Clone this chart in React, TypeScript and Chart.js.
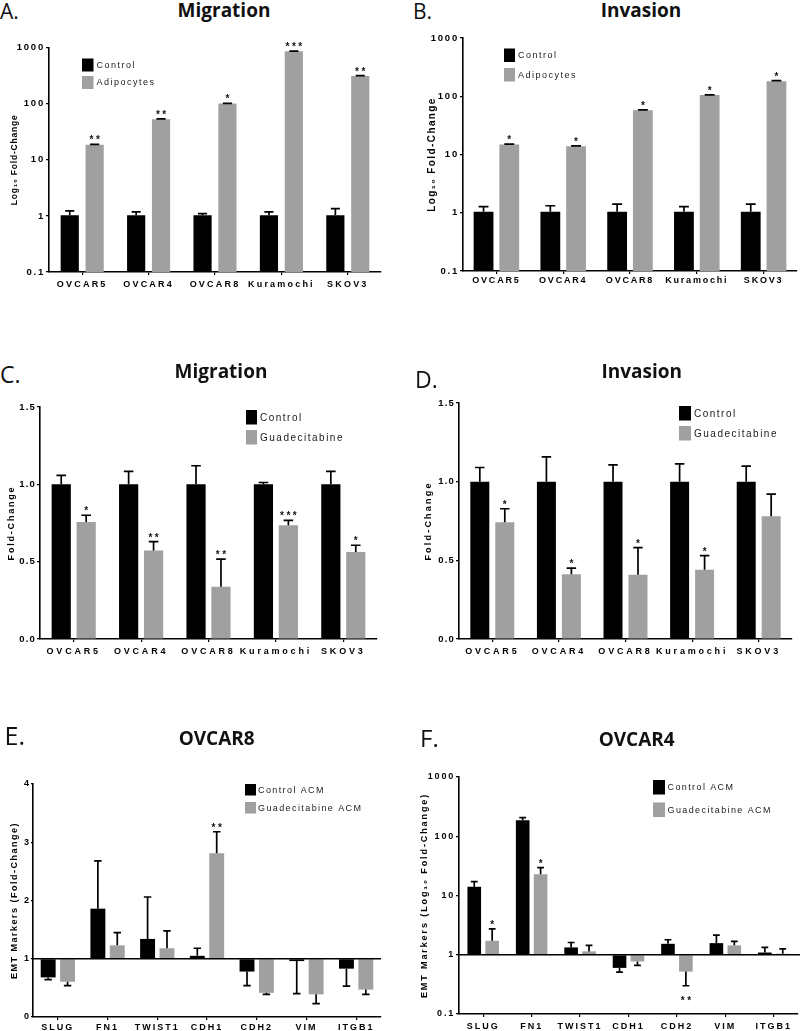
import { useEffect, useRef } from 'react';
import { Chart, registerables } from 'chart.js';

Chart.register(...registerables);

// ---------- data ----------
const cellLines = ['OVCAR5', 'OVCAR4', 'OVCAR8', 'Kuramochi', 'SKOV3'];
const emtMarkers = ['SLUG', 'FN1', 'TWIST1', 'CDH1', 'CDH2', 'VIM', 'ITGB1'];
const logTicks = [0.1, 1, 10, 100, 1000];
const foldTicks = [0, 0.5, 1, 1.5];
const emtTicks = [0, 1, 2, 3, 4];

// A. Migration (adipocytes)
const migControl = [1.03, 1.03, 1.03, 1.03, 1.03];
const migControlErr = [1.23, 1.18, 1.1, 1.18, 1.35];
const migAdipo = [18.5, 53, 101, 860, 312];
const migAdipoErr = [18.9, 54, 102, 870, 318];
const migAdipoStars = ['**', '**', '*', '***', '**'];

// B. Invasion (adipocytes)
const invControl = [1.04, 1.04, 1.04, 1.04, 1.04];
const invControlErr = [1.27, 1.32, 1.41, 1.27, 1.41];
const invAdipo = [14.8, 13.9, 57.5, 105, 181];
const invAdipoErr = [15.1, 14.1, 58.5, 106, 185];
const invAdipoStars = ['*', '*', '*', '*', '*'];

// C. Migration (guadecitabine)
const migGControl = [1.0, 1.0, 1.0, 1.0, 1.0];
const migGControlErr = [1.058, 1.084, 1.12, 1.012, 1.084];
const migGuad = [0.756, 0.573, 0.338, 0.735, 0.563];
const migGuadErr = [0.8, 0.63, 0.517, 0.767, 0.606];
const migGuadStars = ['*', '**', '**', '***', '*'];

// D. Invasion (guadecitabine)
const invGControl = [1.0, 1.0, 1.0, 1.0, 1.0];
const invGControlErr = [1.09, 1.158, 1.107, 1.113, 1.099];
const invGuad = [0.742, 0.412, 0.408, 0.44, 0.78];
const invGuadErr = [0.828, 0.45, 0.581, 0.53, 0.921];
const invGuadStars = ['*', '*', '*', '*', ''];

// E. OVCAR8 EMT markers
const ov8Control = [0.68, 1.86, 1.34, 1.05, 0.78, 0.96, 0.83];
const ov8ControlErr = [0.64, 2.68, 2.06, 1.18, 0.54, 0.4, 0.53];
const ov8Guad = [0.605, 1.23, 1.18, 2.81, 0.415, 0.39, 0.47];
const ov8GuadErr = [0.537, 1.45, 1.48, 3.18, 0.39, 0.23, 0.39];
const ov8GuadStars = ['', '', '', '**', '', '', ''];

// F. OVCAR4 EMT markers
const ov4Control = [14.1, 187, 1.33, 0.6, 1.53, 1.57, 1.09];
const ov4ControlErr = [17.1, 207, 1.61, 0.51, 1.79, 2.14, 1.33];
const ov4Guad = [1.72, 22.8, 1.14, 0.77, 0.52, 1.44, 1.04];
const ov4GuadErr = [2.74, 29.5, 1.44, 0.66, 0.3, 1.68, 1.26];
const ov4GuadStars = ['*', '*', '', '', '**', '', ''];

// ---------- styling ----------
const SANS = "'Liberation Sans', Arial, sans-serif";
const HEAD = "'Open Sans', sans-serif";
const BLACK = '#000000';
const GREY = '#a0a0a0';

const logFmt = (v: number) => String(v);
const foldFmt = (v: number) => v.toFixed(1);
const intFmt = (v: number) => String(v);

function patchSpacing(scale: any, labelSp: number, titleSp: number) {
  if (scale.__spaced) return;
  scale.__spaced = true;
  const dl = scale.drawLabels.bind(scale);
  scale.drawLabels = (ca: any) => {
    const c = scale.ctx;
    c.save();
    c.letterSpacing = labelSp + 'px';
    dl(ca);
    c.restore();
  };
  const dt = scale.drawTitle.bind(scale);
  scale.drawTitle = () => {
    const c = scale.ctx;
    c.save();
    c.letterSpacing = titleSp + 'px';
    dt();
    c.restore();
  };
}

const extrasPlugin = {
  id: 'panelExtras',
  afterDatasetsDraw(chart: any, _args: any, opts: any) {
    const { ctx, chartArea } = chart;
    const ys = chart.scales.y;
    ctx.save();
    if (opts.refLine != null) {
      const py = ys.getPixelForValue(opts.refLine);
      ctx.strokeStyle = '#000';
      ctx.lineWidth = 1.6;
      ctx.beginPath();
      ctx.moveTo(chartArea.left, py);
      ctx.lineTo(opts.refLineToEdge ? chart.width : chartArea.right, py);
      ctx.stroke();
    }
    chart.data.datasets.forEach((ds: any, di: number) => {
      const meta = chart.getDatasetMeta(di);
      meta.data.forEach((bar: any, i: number) => {
        const v = ds.data[i];
        const e = ds.errors ? ds.errors[i] : null;
        const x = bar.x;
        const pv = ys.getPixelForValue(v);
        let pe = pv;
        if (e != null) {
          pe = ys.getPixelForValue(e);
          const half = bar.width / 4;
          ctx.strokeStyle = '#000';
          ctx.lineWidth = 1.7;
          ctx.beginPath();
          ctx.moveTo(x, pv);
          ctx.lineTo(x, pe);
          ctx.moveTo(x - half, pe);
          ctx.lineTo(x + half, pe);
          ctx.stroke();
        }
        const star = ds.stars ? ds.stars[i] : '';
        if (star) {
          const below = pe > pv + 0.5;
          ctx.font = `bold ${opts.starSize}px ${SANS}`;
          ctx.letterSpacing = opts.starSp + 'px';
          ctx.textAlign = 'center';
          ctx.textBaseline = 'alphabetic';
          ctx.fillStyle = '#111';
          const ty = below ? pe + opts.starBelow : pe - opts.starAbove;
          ctx.fillText(star, x + opts.starSp / 2, ty);
          ctx.letterSpacing = '0px';
        }
      });
    });
    const lg = opts.legend;
    if (lg) {
      ctx.font = `${lg.size}px ${SANS}`;
      ctx.letterSpacing = lg.sp + 'px';
      ctx.textAlign = 'left';
      ctx.textBaseline = 'middle';
      chart.data.datasets.forEach((ds: any, i: number) => {
        const top = lg.y + i * lg.row;
        ctx.fillStyle = ds.backgroundColor;
        ctx.fillRect(lg.x, top, lg.w, lg.h);
        ctx.fillStyle = '#1a1a1a';
        ctx.fillText(ds.label, lg.tx, top + lg.h / 2 + 0.5);
      });
    }
    ctx.restore();
  },
};

type Series = { label: string; color: string; values: number[]; errors: number[]; stars: string[] };

interface PanelSpec {
  key: string;
  box: { x: number; y: number; w: number; h: number };
  area: { l: number; t: number; r: number; b: number };
  labels: string[];
  yType: string;
  yMin: number;
  yMax: number;
  yTicks: number[];
  fmt: (v: number) => string;
  yTitle: string;
  yTitleSize: number;
  yTitleSp: number;
  yTitleX: number;
  yTickSize: number;
  yTickSp: number;
  yTickLen: number;
  yTickPad: number;
  xTickSize: number;
  xTickSp: number;
  xTickPad: number;
  base?: number;
  refLine?: number;
  refLineToEdge?: boolean;
  cp: number;
  bp: number;
  series: Series[];
  legend: { x: number; y: number; w: number; h: number; row: number; tx: number; size: number; sp: number };
}

const panels: PanelSpec[] = [
  {
    key: 'A',
    box: { x: 0, y: 30, w: 400, h: 280 },
    area: { l: 49, t: 47.7, r: 381, b: 272 },
    labels: cellLines,
    yType: 'logarithmic', yMin: 0.1, yMax: 1000, yTicks: logTicks, fmt: logFmt,
    yTitle: 'Log₁₀ Fold-Change', yTitleSize: 8.5, yTitleSp: 0.8, yTitleX: 15,
    yTickSize: 9.5, yTickSp: 1.8, yTickLen: 3, yTickPad: 1,
    xTickSize: 9, xTickSp: 2.2, xTickPad: 4.6,
    cp: 0.75, bp: 0.73,
    series: [
      { label: 'Control', color: BLACK, values: migControl, errors: migControlErr, stars: [] },
      { label: 'Adipocytes', color: GREY, values: migAdipo, errors: migAdipoErr, stars: migAdipoStars },
    ],
    legend: { x: 82, y: 58.5, w: 11.5, h: 13, row: 17.5, tx: 96.5, size: 9, sp: 1.5 },
  },
  {
    key: 'B',
    box: { x: 400, y: 30, w: 400, h: 280 },
    area: { l: 463, t: 38, r: 797, b: 271 },
    labels: cellLines,
    yType: 'logarithmic', yMin: 0.1, yMax: 1000, yTicks: logTicks, fmt: logFmt,
    yTitle: 'Log₁₀ Fold-Change', yTitleSize: 10, yTitleSp: 1.4, yTitleX: 432.5,
    yTickSize: 9.5, yTickSp: 1.8, yTickLen: 3, yTickPad: 1,
    xTickSize: 9, xTickSp: 1.8, xTickPad: 1.5,
    cp: 0.77, bp: 0.77,
    series: [
      { label: 'Control', color: BLACK, values: invControl, errors: invControlErr, stars: [] },
      { label: 'Adipocytes', color: GREY, values: invAdipo, errors: invAdipoErr, stars: invAdipoStars },
    ],
    legend: { x: 504, y: 48.5, w: 11, h: 13.5, row: 19.5, tx: 518, size: 9, sp: 1.5 },
  },
  {
    key: 'C',
    box: { x: 0, y: 390, w: 400, h: 290 },
    area: { l: 40, t: 407, r: 377, b: 639 },
    labels: cellLines,
    yType: 'linear', yMin: 0, yMax: 1.5, yTicks: foldTicks, fmt: foldFmt,
    yTitle: 'Fold-Change', yTitleSize: 9, yTitleSp: 1.8, yTitleX: 11.5,
    yTickSize: 9.5, yTickSp: 1.2, yTickLen: 3, yTickPad: 1,
    xTickSize: 9, xTickSp: 2.8, xTickPad: 4.6,
    cp: 0.74, bp: 0.77,
    series: [
      { label: 'Control', color: BLACK, values: migGControl, errors: migGControlErr, stars: [] },
      { label: 'Guadecitabine', color: GREY, values: migGuad, errors: migGuadErr, stars: migGuadStars },
    ],
    legend: { x: 246, y: 410, w: 11, h: 14.5, row: 20, tx: 260, size: 10, sp: 1.5 },
  },
  {
    key: 'D',
    box: { x: 400, y: 390, w: 400, h: 290 },
    area: { l: 459, t: 403, r: 792, b: 639 },
    labels: cellLines,
    yType: 'linear', yMin: 0, yMax: 1.5, yTicks: foldTicks, fmt: foldFmt,
    yTitle: 'Fold-Change', yTitleSize: 9, yTitleSp: 2.2, yTitleX: 428.5,
    yTickSize: 9.5, yTickSp: 1.2, yTickLen: 3, yTickPad: 1,
    xTickSize: 9, xTickSp: 2.8, xTickPad: 4.6,
    cp: 0.75, bp: 0.76,
    series: [
      { label: 'Control', color: BLACK, values: invGControl, errors: invGControlErr, stars: [] },
      { label: 'Guadecitabine', color: GREY, values: invGuad, errors: invGuadErr, stars: invGuadStars },
    ],
    legend: { x: 679, y: 406, w: 12, h: 14.5, row: 20, tx: 694, size: 10, sp: 1.5 },
  },
  {
    key: 'E',
    box: { x: 0, y: 750, w: 400, h: 281 },
    area: { l: 33, t: 784, r: 381, b: 1017 },
    labels: emtMarkers,
    yType: 'linear', yMin: 0, yMax: 4, yTicks: emtTicks, fmt: intFmt,
    yTitle: 'EMT Markers (Fold-Change)', yTitleSize: 9, yTitleSp: 1.5, yTitleX: 15,
    yTickSize: 9, yTickSp: 1, yTickLen: 2, yTickPad: 1,
    xTickSize: 9, xTickSp: 2, xTickPad: 2,
    base: 1, refLine: 1, refLineToEdge: false,
    cp: 0.78, bp: 0.77,
    series: [
      { label: 'Control ACM', color: BLACK, values: ov8Control, errors: ov8ControlErr, stars: [] },
      { label: 'Guadecitabine ACM', color: GREY, values: ov8Guad, errors: ov8GuadErr, stars: ov8GuadStars },
    ],
    legend: { x: 245, y: 784, w: 11, h: 11.5, row: 18, tx: 258, size: 9, sp: 1.4 },
  },
  {
    key: 'F',
    box: { x: 400, y: 750, w: 400, h: 281 },
    area: { l: 459, t: 777, r: 798, b: 1014 },
    labels: emtMarkers,
    yType: 'logarithmic', yMin: 0.1, yMax: 1000, yTicks: logTicks, fmt: logFmt,
    yTitle: 'EMT Markers (Log₁₀ Fold-Change)', yTitleSize: 9, yTitleSp: 1.9, yTitleX: 424.5,
    yTickSize: 9, yTickSp: 1.8, yTickLen: 3, yTickPad: 1,
    xTickSize: 9, xTickSp: 2, xTickPad: 4,
    base: 1, refLine: 1, refLineToEdge: true,
    cp: 0.74, bp: 0.76,
    series: [
      { label: 'Control ACM', color: BLACK, values: ov4Control, errors: ov4ControlErr, stars: [] },
      { label: 'Guadecitabine ACM', color: GREY, values: ov4Guad, errors: ov4GuadErr, stars: ov4GuadStars },
    ],
    legend: { x: 653, y: 780, w: 12, h: 14.5, row: 22.5, tx: 667.5, size: 9, sp: 1.4 },
  },
];

const headings = [
  { letter: 'A.', lx: 0, lBase: 20, lSize: 21, title: 'Migration', cx: 224, tBase: 18.3 },
  { letter: 'B.', lx: 413, lBase: 20, lSize: 21, title: 'Invasion', cx: 641, tBase: 18.3 },
  { letter: 'C.', lx: 0, lBase: 383, lSize: 23, title: 'Migration', cx: 221, tBase: 379 },
  { letter: 'D.', lx: 415, lBase: 388, lSize: 23, title: 'Invasion', cx: 641.7, tBase: 379 },
  { letter: 'E.', lx: 4.5, lBase: 745, lSize: 25, title: 'OVCAR8', cx: 216.7, tBase: 745.7 },
  { letter: 'F.', lx: 420, lBase: 747, lSize: 24, title: 'OVCAR4', cx: 636.7, tBase: 746.7 },
];
const TITLE_SIZE = 19;
const ASC = 0.888; // Open Sans baseline offset with line-height 1

function buildConfig(p: PanelSpec): any {
  const yw = p.area.l - p.box.x;
  const padTop = p.area.t - p.box.y;
  const padRight = p.box.x + p.box.w - p.area.r;
  const xh = p.box.y + p.box.h - p.area.b;
  const titlePadTop = p.yTitleX - p.box.x - (p.yTitleSize * 1.2) / 2;
  const lg = p.legend;
  return {
    type: 'bar',
    data: {
      labels: p.labels,
      datasets: p.series.map((s) => ({
        label: s.label,
        data: s.values,
        backgroundColor: s.color,
        borderWidth: 0,
        base: p.base,
        categoryPercentage: p.cp,
        barPercentage: p.bp,
        errors: s.errors,
        stars: s.stars,
      })),
    },
    options: {
      responsive: false,
      animation: false,
      devicePixelRatio: 1,
      layout: { padding: { left: 0, top: padTop, right: padRight, bottom: 0 } },
      plugins: {
        legend: { display: false },
        tooltip: { enabled: false },
        panelExtras: {
          refLine: p.refLine,
          refLineToEdge: p.refLineToEdge,
          starSize: 10,
          starSp: 2.5,
          starAbove: 1,
          starBelow: 18,
          legend: { ...lg, x: lg.x - p.box.x, y: lg.y - p.box.y, tx: lg.tx - p.box.x },
        },
      },
      scales: {
        x: {
          type: 'category',
          offset: true,
          grid: {
            display: true,
            offset: false,
            drawOnChartArea: false,
            drawTicks: true,
            tickLength: 3,
            color: '#000',
            lineWidth: 1.2,
          },
          border: { display: true, color: '#000', width: 1.6 },
          ticks: {
            autoSkip: false,
            maxRotation: 0,
            minRotation: 0,
            padding: p.xTickPad,
            color: '#000',
            font: { family: SANS, size: p.xTickSize, weight: 'bold' },
          },
          afterFit: (s: any) => {
            s.height = xh;
            patchSpacing(s, p.xTickSp, 0);
          },
        },
        y: {
          type: p.yType,
          min: p.yMin,
          max: p.yMax,
          grid: {
            display: true,
            drawOnChartArea: false,
            drawTicks: true,
            tickLength: p.yTickLen,
            color: '#000',
            lineWidth: 1.2,
          },
          border: { display: true, color: '#000', width: 1.6 },
          afterBuildTicks: (s: any) => {
            s.ticks = p.yTicks.map((v) => ({ value: v }));
          },
          ticks: {
            padding: p.yTickPad,
            color: '#000',
            font: { family: SANS, size: p.yTickSize, weight: 'bold' },
            callback: (v: any) => p.fmt(Number(v)),
          },
          title: {
            display: true,
            text: p.yTitle,
            color: '#000',
            font: { family: SANS, size: p.yTitleSize, weight: 'bold' },
            padding: { top: titlePadTop, bottom: 0 },
          },
          afterFit: (s: any) => {
            s.width = yw;
            patchSpacing(s, p.yTickSp, p.yTitleSp);
          },
        },
      },
    },
    plugins: [extrasPlugin],
  };
}

function Panel({ spec }: { spec: PanelSpec }) {
  const ref = useRef<HTMLCanvasElement>(null);
  useEffect(() => {
    if (!ref.current) return;
    const chart = new Chart(ref.current, buildConfig(spec));
    return () => chart.destroy();
  }, [spec]);
  return (
    <canvas
      ref={ref}
      width={spec.box.w}
      height={spec.box.h}
      style={{
        position: 'absolute',
        left: spec.box.x,
        top: spec.box.y,
        width: spec.box.w,
        height: spec.box.h,
        display: 'block',
      }}
    />
  );
}

export default function App() {
  return (
    <div
      style={{
        position: 'absolute',
        left: 0,
        top: 0,
        width: 800,
        height: 1031,
        background: '#fff',
        overflow: 'hidden',
      }}
    >
      {panels.map((p) => (
        <Panel key={p.key} spec={p} />
      ))}
      {headings.map((h) => (
        <div key={h.letter}>
          <div
            style={{
              position: 'absolute',
              left: h.lx,
              top: h.lBase - ASC * h.lSize,
              fontFamily: HEAD,
              fontWeight: 400,
              fontSize: h.lSize,
              lineHeight: 1,
              whiteSpace: 'nowrap',
              color: '#111',
            }}
          >
            {h.letter}
          </div>
          <div
            style={{
              position: 'absolute',
              left: h.cx - 100,
              width: 200,
              textAlign: 'center',
              top: h.tBase - ASC * TITLE_SIZE,
              fontFamily: HEAD,
              fontWeight: 700,
              fontSize: TITLE_SIZE,
              lineHeight: 1,
              whiteSpace: 'nowrap',
              color: '#111',
            }}
          >
            {h.title}
          </div>
        </div>
      ))}
    </div>
  );
}
